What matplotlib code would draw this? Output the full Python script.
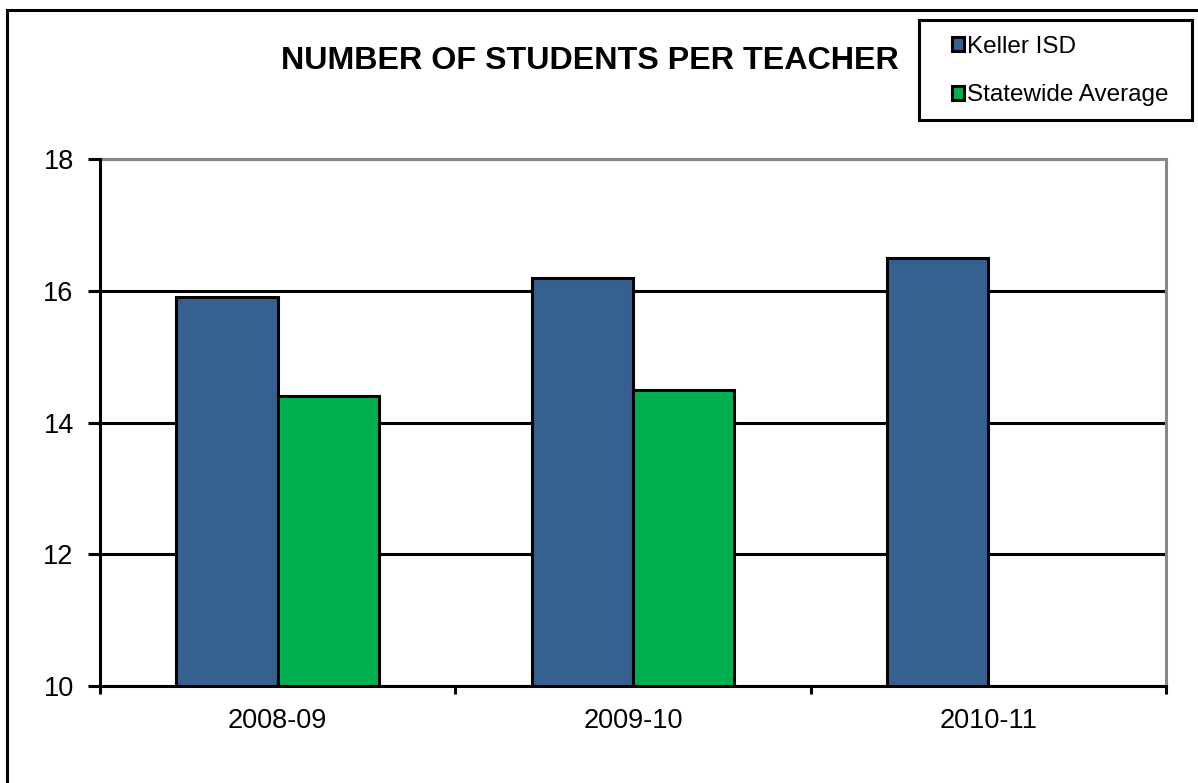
import matplotlib
matplotlib.use("Agg")
import matplotlib.pyplot as plt
from matplotlib.patches import Rectangle
import numpy as np

# data
years = ["2008-09", "2009-10", "2010-11"]
keller = [15.9, 16.2, 16.5]
statewide = [14.4, 14.5]   # no state figure for 2010-11

plt.rcParams['font.family'] = ['Liberation Sans', 'DejaVu Sans']

fig = plt.figure(figsize=(11.98, 7.83), dpi=100)
ax = fig.add_axes([0.0835, 0.1239, 0.8898, 0.673])

x = np.arange(len(years))
w = 0.285
ax.bar(x - w/2, keller, w, color="#36608F", edgecolor="black", linewidth=2.2,
       label="Keller ISD", zorder=3)
ax.bar(x[:len(statewide)] + w/2, statewide, w, color="#00B050", edgecolor="black",
       linewidth=2.2, label="Statewide Average", zorder=3)

ax.set_xlim(-0.5, 2.5)
ax.set_ylim(10, 18)
ax.set_yticks([10, 12, 14, 16, 18])
ax.set_xticks(x)
ax.set_xticklabels(years)
ax.set_xticks([-0.5, 0.5, 1.5, 2.5], minor=True)
ax.tick_params(axis="x", which="major", length=0, labelsize=19.5, pad=16)
ax.tick_params(axis="x", which="minor", length=6, width=2.2, color="black")
ax.tick_params(axis="y", length=9, width=2.2, labelsize=19.5, pad=10)

ax.yaxis.grid(True, color="black", linewidth=2.2)
ax.set_axisbelow(True)
for s in ["left", "bottom"]:
    ax.spines[s].set_linewidth(2.2)
    ax.spines[s].set_color("black")
for s in ["top", "right"]:
    ax.spines[s].set_linewidth(2.2)
    ax.spines[s].set_color("#888888")
ax.spines["left"].set_zorder(4)
ax.spines["bottom"].set_zorder(4)

fig.text(0.4921, 0.922, "NUMBER OF STUDENTS PER TEACHER", ha="center", va="center",
         fontsize=23.2, fontweight="bold")

# legend without its own frame; the box is drawn separately
leg = fig.legend(loc="upper left", bbox_to_anchor=(952/1198, 1 - 36/783), fontsize=17.5,
                 frameon=False, handlelength=0.5, handleheight=0.5, handletextpad=0.12,
                 labelspacing=1.08, borderpad=0, borderaxespad=0)
fig.patches.append(Rectangle((919/1198, 1 - 120/783), 273/1198, 100/783,
                             transform=fig.transFigure, fill=False,
                             edgecolor="black", linewidth=2.2))

# outer frame round the whole chart
fig.patches.append(Rectangle((7/1198, -0.05), 1.1, 1 - 10/783 + 0.05,
                             transform=fig.transFigure, fill=False,
                             edgecolor="black", linewidth=2.2))

fig.savefig("out.png", dpi=100)
